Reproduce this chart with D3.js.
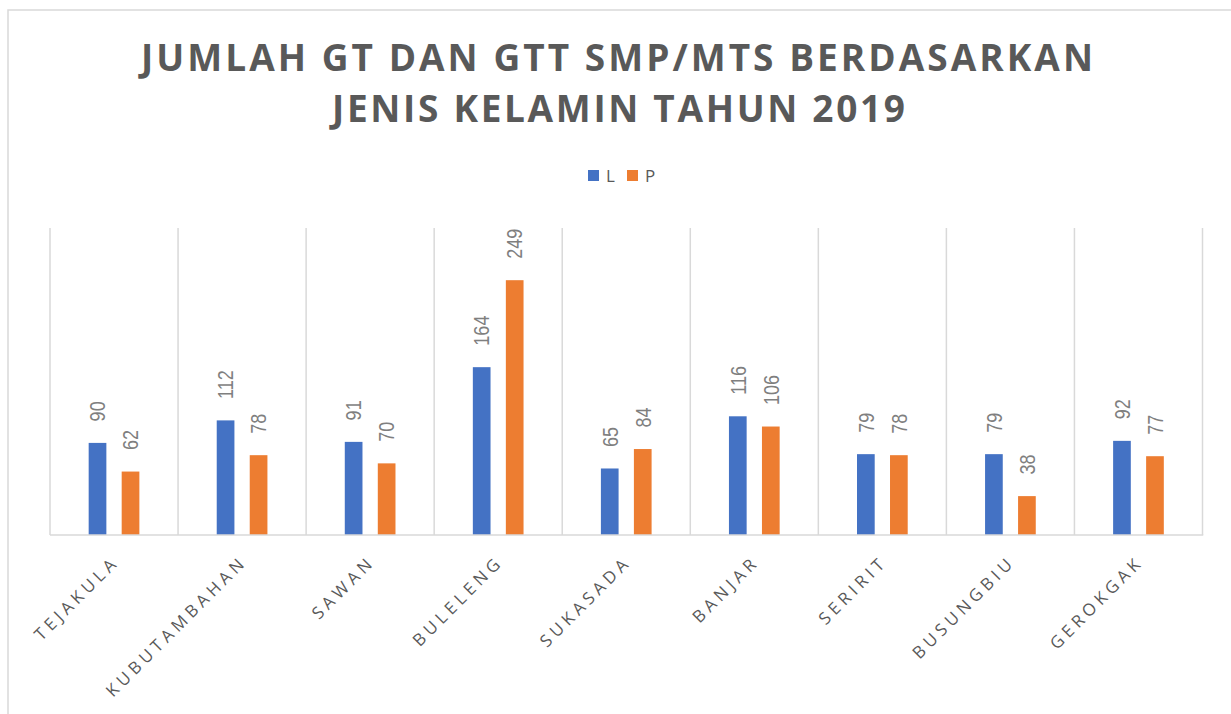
<!DOCTYPE html>
<html>
<head>
<meta charset="utf-8">
<script src="https://cdn.jsdelivr.net/npm/d3@7"></script>
<style>
  html, body { margin: 0; padding: 0; background: #fff; }
  svg { display: block; }
</style>
</head>
<body>
<svg id="chart" width="1231" height="714"></svg>
<script>
const categories = ["TEJAKULA", "KUBUTAMBAHAN", "SAWAN", "BULELENG", "SUKASADA", "BANJAR", "SERIRIT", "BUSUNGBIU", "GEROKGAK"];
const seriesNames = ["L", "P"];
const valuesL = [90, 112, 91, 164, 65, 116, 79, 79, 92];
const valuesP = [62, 78, 70, 249, 84, 106, 78, 38, 77];
const titleLines = ["JUMLAH GT DAN GTT SMP/MTS BERDASARKAN", "JENIS KELAMIN TAHUN 2019"];
const colors = { L: "#4472C4", P: "#ED7D31" };

const svg = d3.select("#chart");
const W = 1231, H = 714;

// chart border
svg.append("rect").attr("x", 8).attr("y", 10).attr("width", W).attr("height", H)
  .attr("fill", "#fff").attr("stroke", "#d9d9d9").attr("stroke-width", 1.5);

// title
const titleFont = "'Open Sans', 'DejaVu Sans', sans-serif";
svg.append("text").attr("x", 617).attr("y", 71).attr("text-anchor", "middle")
  .attr("font-family", titleFont).attr("font-weight", 700).attr("font-size", 37)
  .attr("fill", "#595959").attr("textLength", 952).attr("lengthAdjust", "spacing")
  .text(titleLines[0]);
svg.append("text").attr("x", 618.5).attr("y", 122).attr("text-anchor", "middle")
  .attr("font-family", titleFont).attr("font-weight", 700).attr("font-size", 37)
  .attr("fill", "#595959").attr("textLength", 573).attr("lengthAdjust", "spacing")
  .text(titleLines[1]);

// legend
const legendPos = { L: 588, P: 627 };
seriesNames.forEach(s => {
  svg.append("rect").attr("x", legendPos[s]).attr("y", 170).attr("width", 11).attr("height", 11)
    .attr("fill", colors[s]);
  svg.append("text").attr("x", legendPos[s] + 18).attr("y", 182)
    .attr("font-family", titleFont).attr("font-size", 17).attr("fill", "#595959").text(s);
});

// scales
const plot = { left: 50, right: 1202.5, top: 228, bottom: 535 };
const x0 = d3.scaleBand().domain(categories).range([plot.left, plot.right]).padding(0);
const bw = x0.bandwidth();
const x1 = d3.scaleBand().domain(seriesNames)
  .range([0.302 * bw, 0.302 * bw + 33 * 2 - 15.3])
  .paddingInner(0.464).paddingOuter(0);
const y = d3.scaleLinear().domain([0, 300]).range([plot.bottom, plot.top]);

// gridlines at category boundaries
const bounds = categories.map(c => x0(c)).concat([plot.right]);
svg.append("g").selectAll("line").data(bounds).join("line")
  .attr("x1", d => d).attr("x2", d => d)
  .attr("y1", y(300)).attr("y2", y(0))
  .attr("stroke", "#d9d9d9").attr("stroke-width", 1.5);

// bars
const rows = categories.map((c, i) => ({ c, L: valuesL[i], P: valuesP[i] }));
const g = svg.append("g");
rows.forEach(r => {
  seriesNames.forEach(s => {
    const bx = x0(r.c) + x1(s);
    const bwid = x1.bandwidth();
    g.append("rect").attr("x", bx).attr("y", y(r[s])).attr("width", bwid)
      .attr("height", y(0) - y(r[s])).attr("fill", colors[s]);
    const cx = bx + bwid / 2;
    g.append("text")
      .attr("transform", `translate(${cx + 7.8},${y(r[s]) - 21.5}) rotate(-90) scale(0.82,1)`)
      .attr("font-family", "'Liberation Sans', Arial, sans-serif").attr("font-size", 22)
      .attr("fill", "#7f7f7f").text(r[s]);
  });
});

// baseline
svg.append("line").attr("x1", plot.left).attr("x2", plot.right + 0.75)
  .attr("y1", y(0)).attr("y2", y(0)).attr("stroke", "#d9d9d9").attr("stroke-width", 1.5);

// category axis labels (rotated)
const xAxis = d3.axisBottom(x0).tickSize(0).tickPadding(0);
const axG = svg.append("g").attr("transform", `translate(0,${plot.bottom})`).call(xAxis);
axG.select(".domain").remove();
axG.selectAll(".tick text")
  .attr("font-family", titleFont).attr("font-size", 17).attr("fill", "#595959")
  .attr("letter-spacing", "4.3px")
  .attr("text-anchor", "end").attr("dy", null).attr("y", 0)
  .attr("transform", "translate(6,28) rotate(-45)");
</script>
</body>
</html>
